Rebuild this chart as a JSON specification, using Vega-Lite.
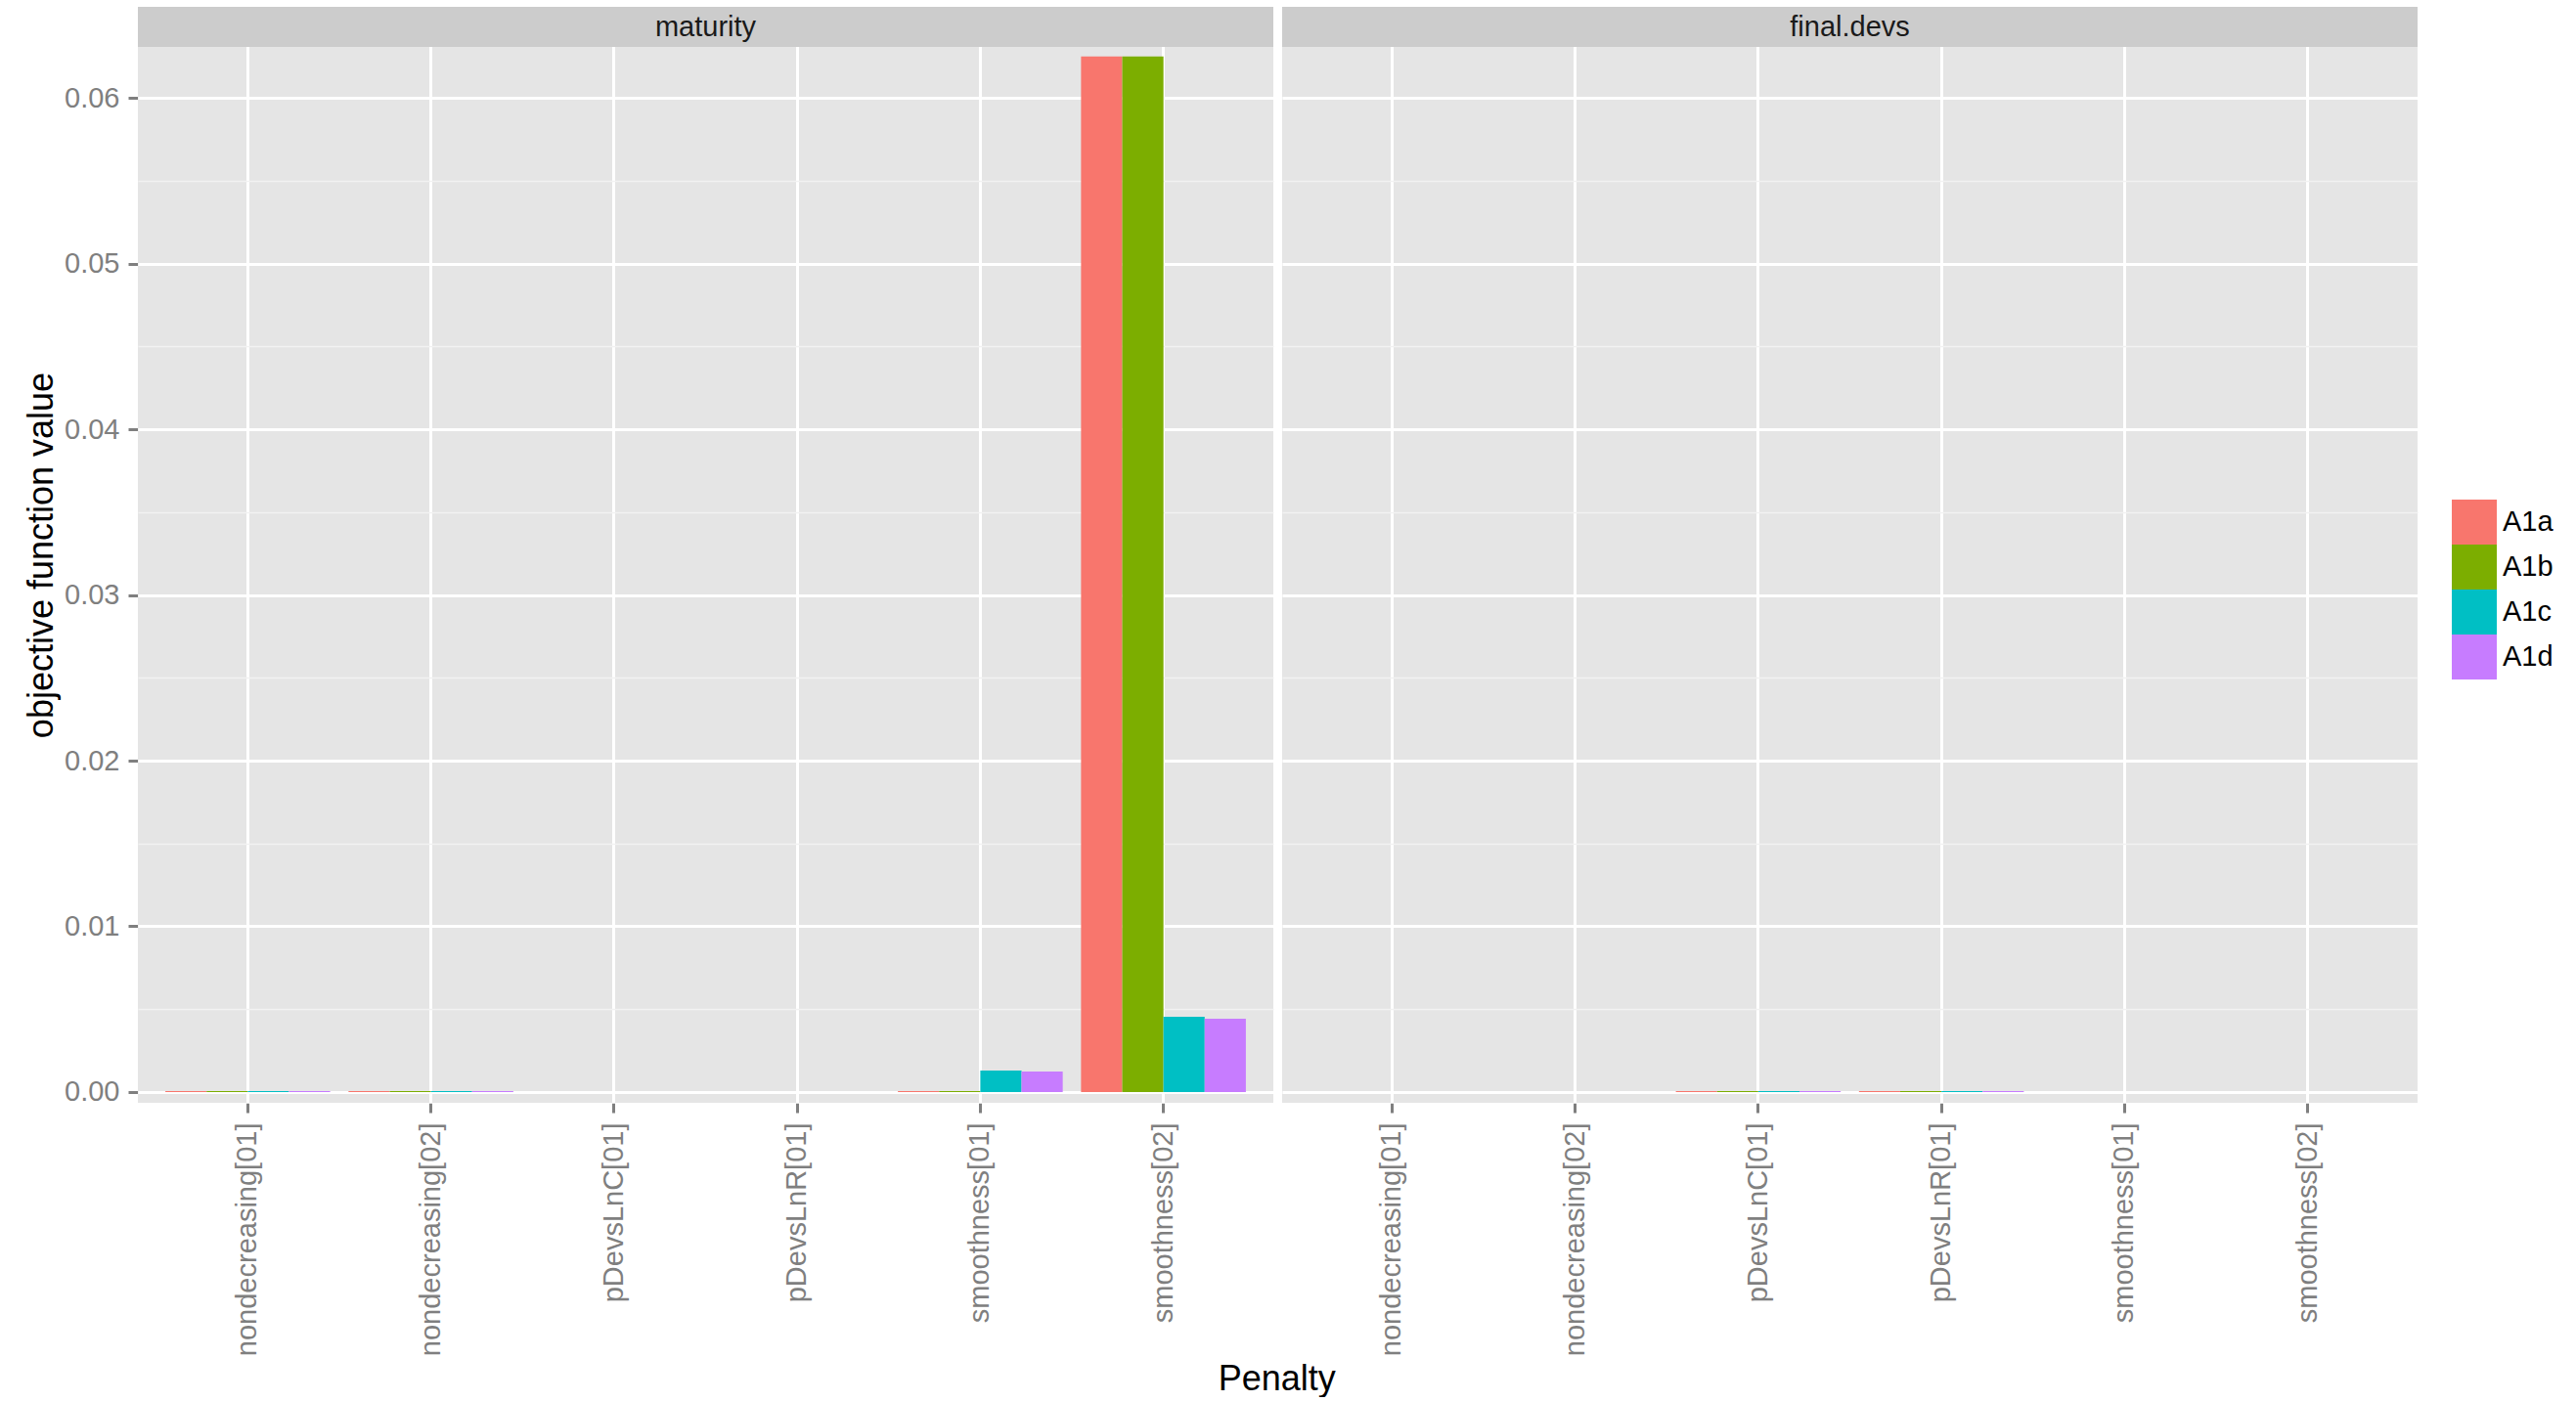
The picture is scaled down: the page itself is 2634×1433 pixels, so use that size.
{
  "$schema": "https://vega.github.io/schema/vega-lite/v6.json",
  "padding": {"left": 24, "top": 7, "right": 0, "bottom": 0},
  "autosize": {"type": "pad"},
  "background": "white",
  "title": {"text": "Penalty", "orient": "bottom", "anchor": "middle", "frame": "bounds", "fontSize": 36, "fontWeight": "normal", "color": "black", "font": "Liberation Sans", "offset": 7, "dx": -12},
  "data": {"values": [
    {"panel": "maturity", "penalty": "nondecreasing[01]", "model": "A1a", "value": 0.00006},
    {"panel": "maturity", "penalty": "nondecreasing[01]", "model": "A1b", "value": 0.00006},
    {"panel": "maturity", "penalty": "nondecreasing[01]", "model": "A1c", "value": 0.00006},
    {"panel": "maturity", "penalty": "nondecreasing[01]", "model": "A1d", "value": 0.00006},
    {"panel": "maturity", "penalty": "nondecreasing[02]", "model": "A1a", "value": 0.00006},
    {"panel": "maturity", "penalty": "nondecreasing[02]", "model": "A1b", "value": 0.00006},
    {"panel": "maturity", "penalty": "nondecreasing[02]", "model": "A1c", "value": 0.00006},
    {"panel": "maturity", "penalty": "nondecreasing[02]", "model": "A1d", "value": 0.00006},
    {"panel": "maturity", "penalty": "pDevsLnC[01]", "model": "A1a", "value": 0},
    {"panel": "maturity", "penalty": "pDevsLnC[01]", "model": "A1b", "value": 0},
    {"panel": "maturity", "penalty": "pDevsLnC[01]", "model": "A1c", "value": 0},
    {"panel": "maturity", "penalty": "pDevsLnC[01]", "model": "A1d", "value": 0},
    {"panel": "maturity", "penalty": "pDevsLnR[01]", "model": "A1a", "value": 0},
    {"panel": "maturity", "penalty": "pDevsLnR[01]", "model": "A1b", "value": 0},
    {"panel": "maturity", "penalty": "pDevsLnR[01]", "model": "A1c", "value": 0},
    {"panel": "maturity", "penalty": "pDevsLnR[01]", "model": "A1d", "value": 0},
    {"panel": "maturity", "penalty": "smoothness[01]", "model": "A1a", "value": 0.00006},
    {"panel": "maturity", "penalty": "smoothness[01]", "model": "A1b", "value": 0.00006},
    {"panel": "maturity", "penalty": "smoothness[01]", "model": "A1c", "value": 0.0013},
    {"panel": "maturity", "penalty": "smoothness[01]", "model": "A1d", "value": 0.00124},
    {"panel": "maturity", "penalty": "smoothness[02]", "model": "A1a", "value": 0.0625},
    {"panel": "maturity", "penalty": "smoothness[02]", "model": "A1b", "value": 0.0625},
    {"panel": "maturity", "penalty": "smoothness[02]", "model": "A1c", "value": 0.00454},
    {"panel": "maturity", "penalty": "smoothness[02]", "model": "A1d", "value": 0.00442},
    {"panel": "final.devs", "penalty": "nondecreasing[01]", "model": "A1a", "value": 0},
    {"panel": "final.devs", "penalty": "nondecreasing[01]", "model": "A1b", "value": 0},
    {"panel": "final.devs", "penalty": "nondecreasing[01]", "model": "A1c", "value": 0},
    {"panel": "final.devs", "penalty": "nondecreasing[01]", "model": "A1d", "value": 0},
    {"panel": "final.devs", "penalty": "nondecreasing[02]", "model": "A1a", "value": 0},
    {"panel": "final.devs", "penalty": "nondecreasing[02]", "model": "A1b", "value": 0},
    {"panel": "final.devs", "penalty": "nondecreasing[02]", "model": "A1c", "value": 0},
    {"panel": "final.devs", "penalty": "nondecreasing[02]", "model": "A1d", "value": 0},
    {"panel": "final.devs", "penalty": "pDevsLnC[01]", "model": "A1a", "value": 0.00006},
    {"panel": "final.devs", "penalty": "pDevsLnC[01]", "model": "A1b", "value": 0.00006},
    {"panel": "final.devs", "penalty": "pDevsLnC[01]", "model": "A1c", "value": 0.00006},
    {"panel": "final.devs", "penalty": "pDevsLnC[01]", "model": "A1d", "value": 0.00006},
    {"panel": "final.devs", "penalty": "pDevsLnR[01]", "model": "A1a", "value": 0.00006},
    {"panel": "final.devs", "penalty": "pDevsLnR[01]", "model": "A1b", "value": 0.00006},
    {"panel": "final.devs", "penalty": "pDevsLnR[01]", "model": "A1c", "value": 0.00006},
    {"panel": "final.devs", "penalty": "pDevsLnR[01]", "model": "A1d", "value": 0.00006},
    {"panel": "final.devs", "penalty": "smoothness[01]", "model": "A1a", "value": 0},
    {"panel": "final.devs", "penalty": "smoothness[01]", "model": "A1b", "value": 0},
    {"panel": "final.devs", "penalty": "smoothness[01]", "model": "A1c", "value": 0},
    {"panel": "final.devs", "penalty": "smoothness[01]", "model": "A1d", "value": 0},
    {"panel": "final.devs", "penalty": "smoothness[02]", "model": "A1a", "value": 0},
    {"panel": "final.devs", "penalty": "smoothness[02]", "model": "A1b", "value": 0},
    {"panel": "final.devs", "penalty": "smoothness[02]", "model": "A1c", "value": 0},
    {"panel": "final.devs", "penalty": "smoothness[02]", "model": "A1d", "value": 0}
  ]},
  "facet": {
    "column": {"field": "panel", "type": "nominal", "sort": ["maturity", "final.devs"], "title": null, "header": {"labels": false, "title": null}}
  },
  "spacing": 9,
  "spec": {
    "width": 1161,
    "height": 1121,
    "view": {"fill": "#E5E5E5", "stroke": null},
    "layer": [
      {
        "mark": {"type": "bar"},
        "encoding": {
          "x": {
            "field": "penalty", "type": "nominal",
            "sort": ["nondecreasing[01]", "nondecreasing[02]", "pDevsLnC[01]", "pDevsLnR[01]", "smoothness[01]", "smoothness[02]"],
            "scale": {"paddingInner": 0.1, "paddingOuter": 0.15},
            "title": null,
            "axis": {
              "labelAngle": -90, "labelFontSize": 29, "labelColor": "#7F7F7F", "labelFont": "Liberation Sans", "labelLimit": 0,
              "tickColor": "#7F7F7F", "tickSize": 10, "tickWidth": 3, "labelPadding": 10,
              "domain": false, "grid": true, "gridColor": "white", "gridWidth": 3, "bandPosition": 0.5
            }
          },
          "xOffset": {
            "field": "model", "type": "nominal",
            "sort": ["A1a", "A1b", "A1c", "A1d"],
            "scale": {"paddingInner": 0, "paddingOuter": 0}
          },
          "y": {
            "field": "value", "type": "quantitative", "stack": null,
            "scale": {"domain": [-0.00065, 0.06549], "nice": false, "zero": false},
            "title": "objective function value",
            "axis": {
              "values": [0, 0.005, 0.01, 0.015, 0.02, 0.025, 0.03, 0.035, 0.04, 0.045, 0.05, 0.055, 0.06],
              "labelExpr": "round(datum.value*1000) % 10 == 0 ? format(datum.value, '.2f') : ''",
              "labelOverlap": false,
              "labelFontSize": 29, "labelColor": "#7F7F7F", "labelFont": "Liberation Sans",
              "tickColor": "#7F7F7F", "tickSize": 10, "tickWidth": 3, "labelPadding": 9,
              "tickOpacity": {"condition": {"test": "round(datum.value*1000) % 10 != 0", "value": 0}, "value": 1},
              "domain": false, "grid": true,
              "gridColor": {"condition": {"test": "round(datum.value*1000) % 10 != 0", "value": "#F2F2F2"}, "value": "white"},
              "gridWidth": {"condition": {"test": "round(datum.value*1000) % 10 != 0", "value": 1.5}, "value": 3},
              "titleFontSize": 36, "titleColor": "black", "titleFontWeight": "normal", "titleFont": "Liberation Sans", "titlePadding": 4
            }
          },
          "color": {
            "field": "model", "type": "nominal",
            "scale": {"domain": ["A1a", "A1b", "A1c", "A1d"], "range": ["#F8766D", "#7CAE00", "#00BFC4", "#C77CFF"]},
            "legend": {
              "title": null, "orient": "none", "legendX": 2366, "legendY": 504,
              "symbolType": "square", "symbolSize": 2116, "symbolStrokeWidth": 0, "symbolOpacity": 1,
              "labelFontSize": 29, "labelColor": "black", "labelFont": "Liberation Sans",
              "rowPadding": 0, "labelOffset": 6
            }
          }
        }
      },
      {
        "transform": [{"aggregate": [{"op": "count", "as": "n"}], "groupby": ["panel"]}],
        "mark": {"type": "rect", "color": "#CCCCCC"},
        "encoding": {
          "y": {"datum": 0.06307, "type": "quantitative"},
          "y2": {"datum": 0.06549}
        }
      },
      {
        "transform": [{"aggregate": [{"op": "count", "as": "n"}], "groupby": ["panel"]}],
        "mark": {"type": "text", "fontSize": 29, "color": "#1A1A1A", "font": "Liberation Sans", "baseline": "middle", "align": "center"},
        "encoding": {
          "y": {"datum": 0.06428, "type": "quantitative"},
          "text": {"field": "panel", "type": "nominal"}
        }
      }
    ]
  },
  "config": {
    "font": "Liberation Sans",
    "view": {"stroke": null}
  }
}
